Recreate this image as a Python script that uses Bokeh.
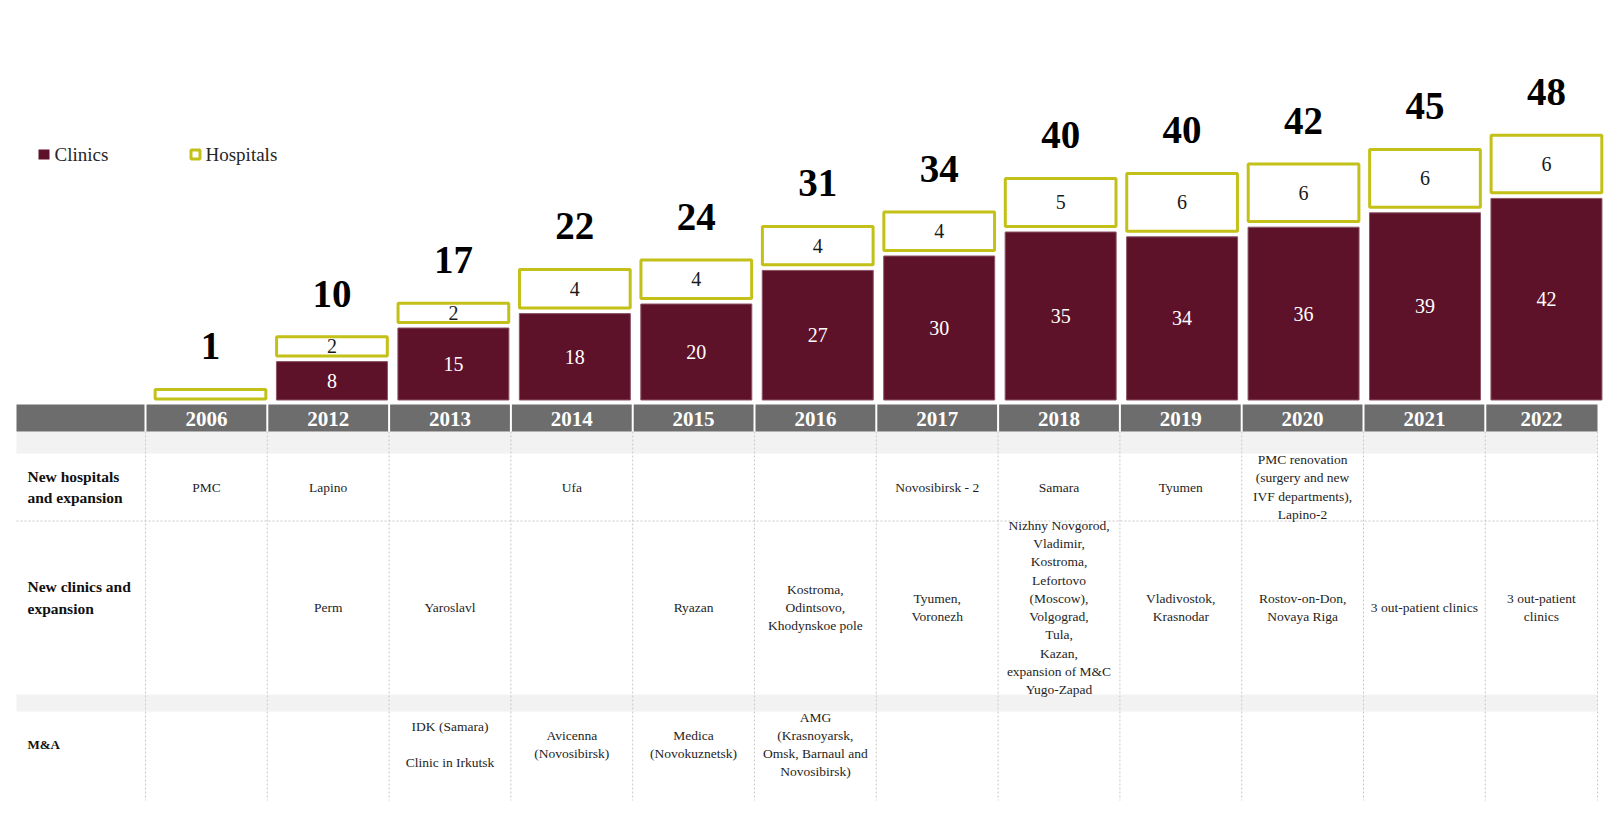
from bokeh.plotting import figure
from bokeh.models import Range1d, ColumnDataSource
from bokeh.embed import file_html
from bokeh.resources import INLINE
from bokeh.core.properties import value

# ---------------- data ----------------
years = ["2006", "2012", "2013", "2014", "2015", "2016", "2017", "2018", "2019", "2020", "2021", "2022"]
clinics = [0, 8, 15, 18, 20, 27, 30, 35, 34, 36, 39, 42]
hospitals = [1, 2, 2, 4, 4, 4, 4, 5, 6, 6, 6, 6]
totals = [1, 10, 17, 22, 24, 31, 34, 40, 40, 42, 45, 48]

legend_labels = ["Clinics", "Hospitals"]
row_labels = ["New hospitals\nand expansion", "New clinics and\nexpansion", "M&A"]

new_hospitals = ["PMC", "Lapino", "", "Ufa", "", "", "Novosibirsk - 2", "Samara", "Tyumen",
                 "PMC renovation\n(surgery and new\nIVF departments),\nLapino-2", "", ""]
new_clinics = ["", "Perm", "Yaroslavl", "", "Ryazan",
               "Kostroma,\nOdintsovo,\nKhodynskoe pole",
               "Tyumen,\nVoronezh",
               "Nizhny Novgorod,\nVladimir,\nKostroma,\nLefortovo\n(Moscow),\nVolgograd,\nTula,\nKazan,\nexpansion of M&C\nYugo-Zapad",
               "Vladivostok,\nKrasnodar",
               "Rostov-on-Don,\nNovaya Riga",
               "3 out-patient clinics",
               "3 out-patient\nclinics"]
m_and_a = ["", "", "IDK (Samara)\n\nClinic in Irkutsk", "Avicenna\n(Novosibirsk)", "Medica\n(Novokuznetsk)",
           "AMG\n(Krasnoyarsk,\nOmsk, Barnaul and\nNovosibirsk)", "", "", "", "", "", ""]

# ---------------- style ----------------
MAROON = "#5e1229"
MAROON_EDGE = "#8e5468"
OLIVE = "#c3c017"
HEADER = "#6d6d6d"
BAND = "#f2f2f2"
DOT = "#c8c8c8"
FONT = value("Liberation Serif")
HOSP_UNIT = 2.0      # drawn height of one hospital, in clinic units
GAP = 1.17           # gap between clinic bar and hospital box
LABEL_OFF = 9.0      # total label above box

W, H = 1606, 812
p = figure(width=W, height=H, output_backend="svg", toolbar_location=None,
           x_range=Range1d(-210 / 121.45, (W - 210) / 121.45),
           y_range=Range1d((399.5 - H) / 4.8, 399.5 / 4.8),
           x_axis_location=None, y_axis_location=None, min_border=0,
           outline_line_color=None, background_fill_color="white", border_fill_color="white")
p.grid.visible = False
p.extra_x_ranges = {"px": Range1d(0, W)}
p.extra_y_ranges = {"px": Range1d(H, 0)}
PX = dict(x_range_name="px", y_range_name="px")

# ---------------- table layout ----------------
n = len(years)
col_w = 121.8
col_left = [145 + col_w * i for i in range(n)]
col_right = col_left[1:] + [1597]
centers = [(a + b) / 2 for a, b in zip(col_left, col_right)]
TL, TR = 16, 1597

# light bands
p.quad(left=[TL, TL], right=[TR, TR], top=[431, 694], bottom=[453, 711],
       fill_color=BAND, line_color=None, **PX)
# header cells
hl = [TL] + [a + 1 for a in col_left]
hr = [144] + [b - 1 for b in col_right[:-1]] + [col_right[-1]]
p.quad(left=hl, right=hr, top=404, bottom=431, fill_color=HEADER, line_color=None, **PX)
p.text(x=centers, y=[418] * n, text=years, text_font=FONT, text_font_size="21px",
       text_font_style="bold", text_color="white", text_align="center",
       text_baseline="middle", **PX)

# dotted grid
vx = col_left + [TR]
p.segment(x0=vx, y0=[431] * len(vx), x1=vx, y1=[800] * len(vx),
          line_color=DOT, line_dash="2 2", line_width=1, **PX)
p.segment(x0=[TL], y0=[520.5], x1=[TR], y1=[520.5],
          line_color=DOT, line_dash="2 2", line_width=1, **PX)

# row labels
p.text(x=[27, 27], y=[486.5, 597], text=row_labels[:2], text_font=FONT, text_font_size="15.5px",
       text_font_style="bold", text_color="#111111", text_align="left",
       text_baseline="middle", text_line_height=1.26, **PX)
p.text(x=[27], y=[744], text=row_labels[2:], text_font=FONT, text_font_size="13px",
       text_font_style="bold", text_color="#111111", text_align="left",
       text_baseline="middle", **PX)

# cell texts
for row, yc in ((new_hospitals, 486.5), (new_clinics, 607), (m_and_a, 744)):
    xs = [c for c, t in zip(centers, row) if t]
    ts = [t for t in row if t]
    p.text(x=xs, y=[yc] * len(xs), text=ts, text_font=FONT, text_font_size="13.5px",
           text_color="#1e1e1e", text_align="center", text_baseline="middle",
           text_line_height=1.22, **PX)

# ---------------- bars ----------------
idx = list(range(n))
hb = [c + (GAP if c > 0 else 0.2) for c in clinics]
ht = [b + HOSP_UNIT * h for b, h in zip(hb, hospitals)]

cl = ColumnDataSource(dict(x=[i for i in idx if clinics[i] > 0],
                           top=[c for c in clinics if c > 0],
                           mid=[c / 2 for c in clinics if c > 0],
                           lab=[str(c) for c in clinics if c > 0]))
p.vbar(x="x", top="top", bottom=0, width=0.914, source=cl,
       fill_color=MAROON, line_color=MAROON_EDGE, line_width=1)
p.text(x="x", y="mid", text="lab", source=cl, text_font=FONT, text_font_size="20px",
       text_color="white", text_align="center", text_baseline="middle")

hs = ColumnDataSource(dict(x=idx, bottom=hb, top=ht, total_y=[t + LABEL_OFF for t in ht],
                           total=[str(t) for t in totals]))
p.vbar(x="x", top="top", bottom="bottom", width=0.9115, source=hs,
       fill_color="white", line_color=OLIVE, line_width=3)
p.text(x="x", y="total_y", text="total", source=hs, text_font=FONT, text_font_size="39px",
       text_font_style="bold", text_color="#000000", text_align="center", text_baseline="middle")

hl_src = ColumnDataSource(dict(x=[i for i in idx if hospitals[i] >= 2],
                               y=[(hb[i] + ht[i]) / 2 for i in idx if hospitals[i] >= 2],
                               lab=[str(hospitals[i]) for i in idx if hospitals[i] >= 2]))
p.text(x="x", y="y", text="lab", source=hl_src, text_font=FONT, text_font_size="20px",
       text_color="#1a1a1a", text_align="center", text_baseline="middle")

# ---------------- legend ----------------
p.quad(left=[38], right=[49], top=[149], bottom=[159], fill_color=MAROON, line_color=None, **PX)
p.quad(left=[190.5], right=[199.5], top=[149.5], bottom=[158.5], fill_color="white",
       line_color=OLIVE, line_width=3, **PX)
p.text(x=[54, 205], y=[154, 154], text=legend_labels, text_font=FONT, text_font_size="19px",
       text_color="#262626", text_align="left", text_baseline="middle", **PX)

open("out.html", "w").write(file_html(p, INLINE))
